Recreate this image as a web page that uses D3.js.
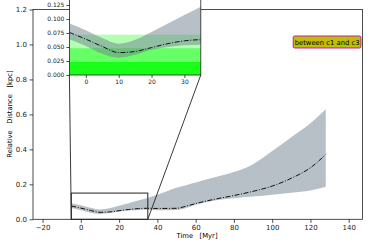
<!DOCTYPE html>
<html>
<head>
<meta charset="utf-8">
<script src="https://cdn.jsdelivr.net/npm/d3@7"></script>
<style>
  body { margin: 0; background: #fff; }
  svg { display: block; }
  text { font-family: "DejaVu Sans", sans-serif; }
</style>
</head>
<body>
<script>
'use strict';

// data
let time  = [-5, 0, 5, 10, 15, 20, 25, 30, 35, 40, 50, 55, 60, 70, 80, 90, 100, 110, 120, 128];
let mean  = [0.076, 0.064, 0.051, 0.040, 0.042, 0.049, 0.056, 0.061, 0.063, 0.062, 0.063, 0.075, 0.090, 0.115, 0.136, 0.160, 0.190, 0.235, 0.295, 0.371];
let upper = [0.092, 0.080, 0.066, 0.056, 0.063, 0.077, 0.092, 0.107, 0.122, 0.140, 0.180, 0.195, 0.210, 0.240, 0.270, 0.315, 0.390, 0.470, 0.550, 0.630];
let lower = [0.064, 0.052, 0.038, 0.031, 0.036, 0.045, 0.050, 0.053, 0.054, 0.052, 0.053, 0.065, 0.083, 0.108, 0.120, 0.130, 0.140, 0.152, 0.165, 0.186];

// green reference bands in the inset: [from, to]
let bands = [[0.048, 0.072], [0.024, 0.048], [0, 0.024]];
let bandColors = ['#b3ffb3', '#66ff66', '#1aff1a'];

let xTicks = [-20, 0, 20, 40, 60, 80, 100, 120, 140];
let yTicks = [0, 0.2, 0.4, 0.6, 0.8, 1.0, 1.2];
let insetXTicks = [0, 10, 20, 30];
let insetYTicks = [0, 0.025, 0.05, 0.075, 0.1, 0.125];
let zoomBox = {x0: -5, x1: 35, y0: 0, y1: 0.15};
let label = 'between c1 and c3';

let w = 374, h = 249;
let rows = time.map((t, i) => ({t: t, m: mean[i], lo: lower[i], hi: upper[i]}));

let svg = d3.select('body')
    .append('svg')
    .attr('width', w)
    .attr('height', h);

let x = d3.scaleLinear().domain([-25, 147.2]).range([33, 362.5]);
let y = d3.scaleLinear().domain([0, 1.2]).range([219.3, 9.5]);

let fmtMinus = (d) => (d < 0 ? '\u2212' + Math.abs(d) : '' + d);

function drawBand(g, xs, ys) {
    g.append('path')
        .datum(rows)
        .attr('d', d3.area()
            .x((d) => xs(d.t))
            .y0((d) => ys(d.lo))
            .y1((d) => ys(d.hi))
            .curve(d3.curveMonotoneX))
        .attr('fill', 'slategray')
        .attr('fill-opacity', 0.5);
    g.append('path')
        .datum(rows)
        .attr('d', d3.line()
            .x((d) => xs(d.t))
            .y((d) => ys(d.m))
            .curve(d3.curveMonotoneX))
        .attr('fill', 'none')
        .attr('stroke', '#111')
        .attr('stroke-width', 1)
        .attr('stroke-dasharray', '5,1.6,1,1.6');
}

function styleAxis(g, size) {
    g.select('.domain').remove();
    g.selectAll('line').attr('stroke', '#222').attr('stroke-width', 0.8);
    g.selectAll('text').attr('font-size', size + 'px').attr('fill', '#222');
}

// main axes
let main = svg.append('g');
drawBand(main, x, y);

main.append('g')
    .attr('transform', 'translate(0,219.3)')
    .call(d3.axisBottom(x).tickValues(xTicks).tickSize(3.5).tickPadding(2.5).tickFormat(fmtMinus))
    .call((g) => styleAxis(g, 7));

main.append('g')
    .attr('transform', 'translate(33,0)')
    .call(d3.axisLeft(y).tickValues(yTicks).tickSize(3.5).tickPadding(2.5).tickFormat(d3.format('.1f')))
    .call((g) => styleAxis(g, 7));

main.append('rect')
    .attr('x', 33).attr('y', 9.5)
    .attr('width', 329.5).attr('height', 209.8)
    .attr('fill', 'none')
    .attr('stroke', '#222')
    .attr('stroke-width', 0.8);

main.append('text')
    .attr('x', 197).attr('y', 238)
    .attr('text-anchor', 'middle')
    .attr('font-size', '6.8px')
    .style('white-space', 'pre')
    .text('Time   [Myr]');

main.append('text')
    .attr('transform', 'translate(12,114) rotate(-90)')
    .attr('text-anchor', 'middle')
    .attr('font-size', '6.8px')
    .style('white-space', 'pre')
    .text('Relative   Distance   [kpc]');

// zoom rectangle and connectors
main.append('rect')
    .attr('x', x(zoomBox.x0)).attr('y', y(zoomBox.y1))
    .attr('width', x(zoomBox.x1) - x(zoomBox.x0))
    .attr('height', y(zoomBox.y0) - y(zoomBox.y1))
    .attr('fill', 'none')
    .attr('stroke', '#222')
    .attr('stroke-width', 1);

// inset axes
let xi = d3.scaleLinear().domain([zoomBox.x0, zoomBox.x1]).range([69.4, 200.8]);
let yi = d3.scaleLinear().domain([zoomBox.y0, zoomBox.y1]).range([75, -9]);

[[zoomBox.x0], [zoomBox.x1]].forEach((d) => {
    main.append('line')
        .attr('x1', xi(d[0])).attr('y1', yi(0))
        .attr('x2', x(d[0])).attr('y2', y(0))
        .attr('stroke', '#222')
        .attr('stroke-width', 0.9);
});

let inset = svg.append('g');
inset.append('rect')
    .attr('x', 69.4).attr('y', -9)
    .attr('width', 131.4).attr('height', 84)
    .attr('fill', '#fff');

inset.selectAll('.band')
    .data(bands)
    .enter()
    .append('rect')
    .attr('x', 69.4)
    .attr('width', 131.4)
    .attr('y', (d) => yi(d[1]))
    .attr('height', (d) => yi(d[0]) - yi(d[1]))
    .attr('fill', (d, i) => bandColors[i]);

let clip = svg.append('clipPath').attr('id', 'insetClip');
clip.append('rect').attr('x', 69.4).attr('y', -9).attr('width', 131.4).attr('height', 84);
let insetData = inset.append('g').attr('clip-path', 'url(#insetClip)');
drawBand(insetData, xi, yi);

inset.append('g')
    .attr('transform', 'translate(0,75)')
    .call(d3.axisBottom(xi).tickValues(insetXTicks).tickSize(3).tickPadding(2).tickFormat(fmtMinus))
    .call((g) => styleAxis(g, 6));

inset.append('g')
    .attr('transform', 'translate(69.4,0)')
    .call(d3.axisLeft(yi).tickValues(insetYTicks).tickSize(3).tickPadding(2).tickFormat(d3.format('.3f')))
    .call((g) => styleAxis(g, 6));

inset.append('rect')
    .attr('x', 69.4).attr('y', -9)
    .attr('width', 131.4).attr('height', 84)
    .attr('fill', 'none')
    .attr('stroke', '#222')
    .attr('stroke-width', 0.8);

// annotation box
let note = svg.append('g');
let noteText = note.append('text')
    .attr('x', 359.5).attr('y', 44.5)
    .attr('text-anchor', 'end')
    .attr('font-size', '6.8px')
    .attr('fill', '#000')
    .text(label);
let bb = noteText.node().getBBox();
note.insert('rect', 'text')
    .attr('x', bb.x - 1.5).attr('y', 36)
    .attr('width', bb.width + 3).attr('height', 12)
    .attr('rx', 1.5)
    .attr('fill', '#bfbf00')
    .attr('stroke', '#bf00bf')
    .attr('stroke-width', 0.9);
</script>
</body>
</html>
